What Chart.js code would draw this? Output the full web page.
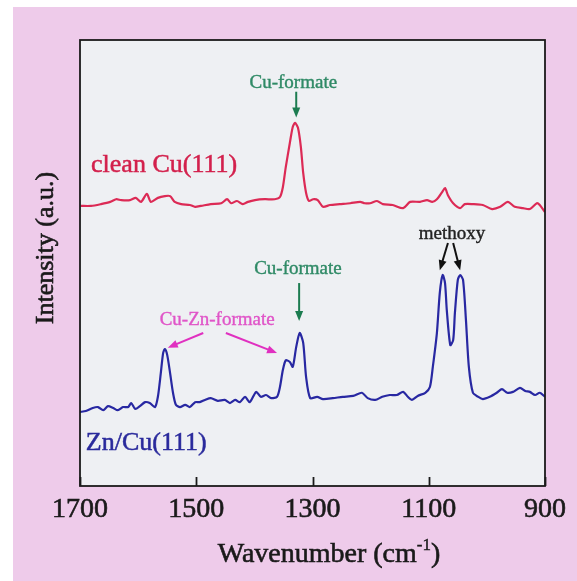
<!DOCTYPE html>
<html>
<head>
<meta charset="utf-8">
<script src="https://cdn.jsdelivr.net/npm/chart.js@4.4.0/dist/chart.umd.min.js"></script>
<style>
  html, body { margin: 0; padding: 0; background: #fff; }
  canvas { display: block; }
</style>
</head>
<body>
<canvas id="chart" width="577" height="581"></canvas>
<script>
// tick labels on the wavenumber axis
const xTicks = [1700, 1500, 1300, 1100, 900];

// clean Cu(111) spectrum
const cleanWave = [1699, 1681, 1664, 1648, 1638, 1629, 1614, 1604, 1595, 1585, 1578, 1566, 1554, 1545, 1537, 1526,
  1511, 1502, 1492, 1475, 1457, 1447, 1440, 1430, 1420, 1411, 1399, 1382, 1365, 1356, 1351, 1346, 1339, 1334,
  1330, 1325, 1320, 1316, 1311, 1306, 1299, 1291, 1282, 1270, 1253, 1235, 1218, 1210, 1201, 1189, 1179, 1162,
  1144, 1132, 1115, 1103, 1094, 1086, 1077, 1072, 1067, 1058, 1046, 1038, 1024, 1007, 991, 977, 964, 952, 938,
  926, 914, 909, 900];
const cleanInt = [62.8, 62.8, 63.2, 63.7, 64.3, 64.1, 64.1, 64.6, 63.7, 65.5, 63.7, 64.6, 65.0, 65.0, 63.7, 63.2,
  63.0, 62.6, 62.8, 63.2, 63.4, 64.3, 63.4, 63.9, 63.2, 63.7, 64.1, 64.3, 64.3, 64.8, 67.0, 71.5, 76.9, 80.5,
  81.4, 80.3, 76.0, 70.2, 65.7, 63.9, 64.3, 64.1, 62.6, 63.0, 63.2, 63.4, 63.7, 63.4, 63.4, 63.9, 63.2, 63.0,
  62.3, 63.7, 63.7, 64.1, 63.7, 64.3, 65.9, 66.8, 65.2, 63.4, 62.3, 63.2, 63.2, 63.0, 62.1, 62.6, 63.7, 62.6, 62.3,
  62.1, 63.4, 63.0, 61.4];

// Zn/Cu(111) spectrum
const znWave = [1700, 1690, 1678, 1669, 1660, 1652, 1643, 1635, 1626, 1617, 1612, 1605, 1597, 1588, 1580, 1571,
  1566, 1561, 1557, 1554, 1550, 1545, 1540, 1535, 1528, 1519, 1511, 1502, 1494, 1485, 1475, 1463, 1451, 1442,
  1433, 1425, 1416, 1408, 1397, 1389, 1380, 1371, 1361, 1356, 1351, 1346, 1339, 1334, 1328, 1322, 1316, 1311,
  1304, 1292, 1282, 1265, 1248, 1230, 1215, 1205, 1192, 1180, 1167, 1155, 1144, 1136, 1129, 1119, 1106, 1098,
  1093, 1086, 1081, 1076, 1072, 1069, 1063, 1058, 1055, 1050, 1046, 1041, 1036, 1031, 1024, 1015, 1007, 995,
  983, 974, 965, 955, 943, 934, 926, 917, 909, 900];
const znInt = [16.6, 16.8, 17.5, 17.7, 17.0, 17.9, 17.5, 17.0, 17.7, 17.7, 18.6, 17.3, 17.9, 18.8, 18.6, 17.7,
  20.0, 25.3, 29.8, 30.7, 29.4, 25.3, 20.9, 18.2, 17.7, 18.2, 17.7, 18.8, 18.8, 19.3, 19.7, 19.1, 19.3, 18.6,
  19.3, 18.8, 20.0, 18.8, 21.1, 20.0, 20.4, 19.7, 20.0, 22.2, 26.0, 28.2, 27.8, 26.7, 31.2, 34.3, 32.1, 24.4,
  19.7, 20.0, 19.5, 19.7, 20.0, 20.2, 20.9, 19.7, 19.3, 20.0, 20.4, 20.4, 21.1, 20.0, 19.3, 20.2, 20.9, 22.2,
  26.7, 34.3, 43.3, 47.3, 45.5, 39.5, 31.6, 32.7, 38.8, 46.2, 47.3, 46.2, 37.2, 26.7, 20.9, 20.0, 19.5, 20.0,
  20.9, 21.7, 20.9, 21.1, 22.0, 21.3, 21.1, 20.4, 20.9, 20.0];

const serif = '"Liberation Serif", "Times New Roman", serif';

// peak labels, placed in wavenumber / intensity units
const notes = [
  { text: 'Cu-formate', w: 1333, v: 90.4, color: '#2f8a66', arrowColor: '#1c7c50',
    arrows: [[1328, 88.4, 1328, 82.6]] },
  { text: 'Cu-formate', w: 1325, v: 48.7, color: '#2f8a66', arrowColor: '#1c7c50',
    arrows: [[1323, 45.5, 1323, 37.0]] },
  { text: 'Cu-Zn-formate', w: 1464, v: 37.2, color: '#e055c8', arrowColor: '#e030c0',
    arrows: [[1488, 34.3, 1549, 31.0], [1449, 34.3, 1361, 29.8]] },
  { text: 'methoxy', w: 1060, v: 56.5, color: '#222', arrowColor: '#111',
    arrows: [[1067, 54.5, 1081, 48.4], [1058, 54.5, 1046, 48.4]] }
];

function arrow(ctx, x1, y1, x2, y2, color) {
  const a = Math.atan2(y2 - y1, x2 - x1);
  const head = 10, half = 4;
  ctx.strokeStyle = color;
  ctx.fillStyle = color;
  ctx.lineWidth = 2;
  ctx.beginPath();
  ctx.moveTo(x1, y1);
  ctx.lineTo(x2 - Math.cos(a) * head * 0.8, y2 - Math.sin(a) * head * 0.8);
  ctx.stroke();
  const bx = x2 - Math.cos(a) * head, by = y2 - Math.sin(a) * head;
  ctx.beginPath();
  ctx.moveTo(x2, y2);
  ctx.lineTo(bx + Math.sin(a) * half, by - Math.cos(a) * half);
  ctx.lineTo(bx - Math.sin(a) * half, by + Math.cos(a) * half);
  ctx.closePath();
  ctx.fill();
}

// text with a thin outline so it reads as heavy as the scanned figure
function heavyText(ctx, text, x, y, color, stroke) {
  ctx.fillStyle = color;
  ctx.strokeStyle = color;
  ctx.lineWidth = stroke;
  ctx.fillText(text, x, y);
  ctx.strokeText(text, x, y);
}

const framePlugin = {
  id: 'frame',
  beforeDraw(chart) {
    const { ctx, chartArea: ca, width, height } = chart;
    ctx.save();
    ctx.fillStyle = '#ffffff';
    ctx.fillRect(0, 0, width, height);
    ctx.fillStyle = '#eecbea';
    ctx.fillRect(13, 7, width - 13, height - 7);
    ctx.fillStyle = '#eef0f3';
    ctx.fillRect(ca.left, ca.top, ca.right - ca.left, ca.bottom - ca.top);
    ctx.restore();
  },
  afterDraw(chart) {
    const { ctx, chartArea: ca, scales: { x, y } } = chart;
    ctx.save();
    ctx.strokeStyle = '#1a1a1a';
    ctx.lineWidth = 1.8;
    ctx.strokeRect(ca.left, ca.top, ca.right - ca.left, ca.bottom - ca.top);

    // inward tick marks
    xTicks.forEach(t => {
      const px = Math.round(x.getPixelForValue(t)) + 0.5;
      ctx.beginPath();
      ctx.moveTo(px, ca.bottom);
      ctx.lineTo(px, ca.bottom - 9);
      ctx.stroke();
    });

    // peak labels and arrows
    ctx.textAlign = 'center';
    ctx.textBaseline = 'middle';
    ctx.font = '19px ' + serif;
    notes.forEach(n => {
      heavyText(ctx, n.text, x.getPixelForValue(n.w), y.getPixelForValue(n.v), n.color, 0.4);
      n.arrows.forEach(a => arrow(ctx, x.getPixelForValue(a[0]), y.getPixelForValue(a[1]),
        x.getPixelForValue(a[2]), y.getPixelForValue(a[3]), n.arrowColor));
    });

    // series names
    ctx.textAlign = 'left';
    ctx.font = '26px ' + serif;
    heavyText(ctx, 'clean Cu(111)', x.getPixelForValue(1681), y.getPixelForValue(72.0), '#d3204c', 0.5);
    heavyText(ctx, 'Zn/Cu(111)', x.getPixelForValue(1690), y.getPixelForValue(9.6), '#2a2a9c', 0.5);

    // axis titles
    ctx.font = '28px ' + serif;
    const main = 'Wavenumber (cm', sup = '-1', tail = ')';
    const wMain = ctx.measureText(main).width;
    const wTail = ctx.measureText(tail).width;
    ctx.font = '17px ' + serif;
    const wSup = ctx.measureText(sup).width;
    let tx = 329 - (wMain + wSup + wTail) / 2;
    const ty = 555;
    ctx.font = '28px ' + serif;
    heavyText(ctx, main, tx, ty, '#1a1a1a', 0.6);
    tx += wMain;
    ctx.font = '17px ' + serif;
    heavyText(ctx, sup, tx, ty - 9, '#1a1a1a', 0.4);
    tx += wSup;
    ctx.font = '28px ' + serif;
    heavyText(ctx, tail, tx, ty, '#1a1a1a', 0.6);

    ctx.translate(46, 248);
    ctx.rotate(-Math.PI / 2);
    ctx.textAlign = 'center';
    ctx.font = '26px ' + serif;
    heavyText(ctx, 'Intensity (a.u.)', 0, 0, '#1a1a1a', 0.6);
    ctx.restore();
  }
};

new Chart(document.getElementById('chart'), {
  type: 'line',
  data: {
    datasets: [
      {
        label: 'clean Cu(111)',
        data: cleanWave.map((w, i) => ({ x: w, y: cleanInt[i] })),
        borderColor: '#dc2a55',
        borderWidth: 2.2,
        pointRadius: 0,
        tension: 0.25,
        fill: false
      },
      {
        label: 'Zn/Cu(111)',
        data: znWave.map((w, i) => ({ x: w, y: znInt[i] })),
        borderColor: '#2828a2',
        borderWidth: 2.2,
        pointRadius: 0,
        tension: 0.25,
        fill: false
      }
    ]
  },
  options: {
    responsive: false,
    animation: false,
    layout: { padding: { left: 80, right: 32, top: 40, bottom: 0 } },
    scales: {
      x: {
        type: 'linear',
        reverse: true,
        min: 900,
        max: 1700,
        afterBuildTicks: scale => { scale.ticks = xTicks.map(v => ({ value: v })); },
        afterFit: scale => { scale.height = 95; scale.paddingLeft = 0; scale.paddingRight = 0; },
        ticks: {
          color: '#1a1a1a',
          font: { family: serif, size: 28 },
          textStrokeColor: '#1a1a1a',
          textStrokeWidth: 0.6,
          padding: 7,
          maxRotation: 0,
          autoSkip: false,
          callback: v => String(v)
        },
        grid: { display: false, drawTicks: false },
        border: { display: false }
      },
      y: {
        display: false,
        min: 0,
        max: 100
      }
    },
    plugins: {
      legend: { display: false },
      tooltip: { enabled: false }
    }
  },
  plugins: [framePlugin]
});
</script>
</body>
</html>
